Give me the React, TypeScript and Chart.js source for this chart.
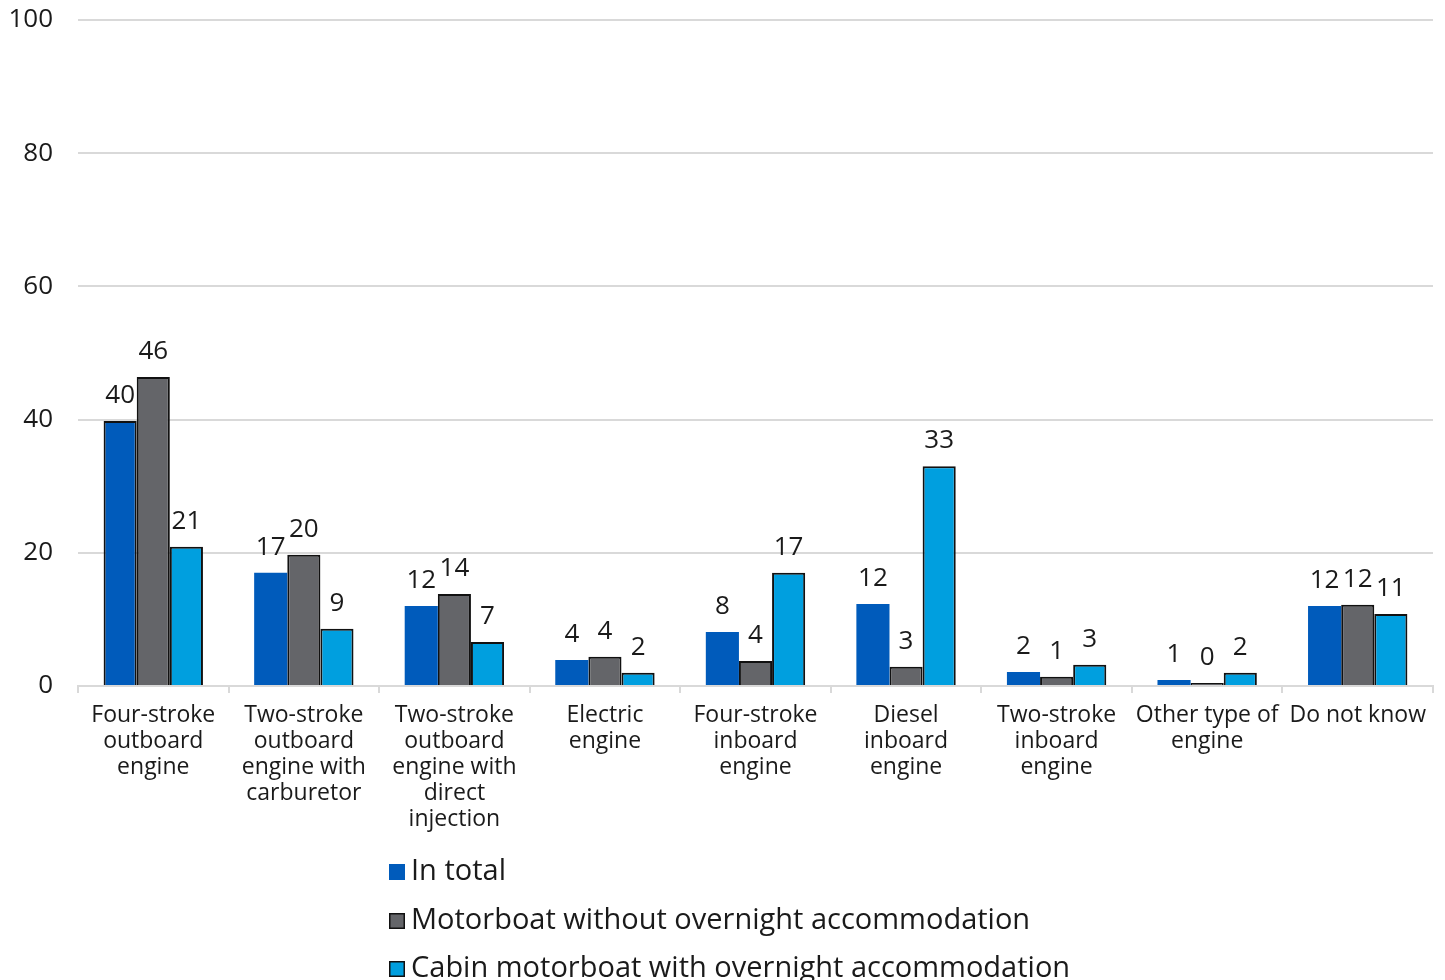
import React, { useEffect, useRef } from "react";
import { Chart, registerables } from "chart.js";

Chart.register(...registerables);

const categories: string[][] = [
  ["Four-stroke", "outboard", "engine"],
  ["Two-stroke", "outboard", "engine with", "carburetor"],
  ["Two-stroke", "outboard", "engine with", "direct", "injection"],
  ["Electric", "engine"],
  ["Four-stroke", "inboard", "engine"],
  ["Diesel", "inboard", "engine"],
  ["Two-stroke", "inboard", "engine"],
  ["Other type of", "engine"],
  ["Do not know"],
];

const seriesNames = [
  "In total",
  "Motorboat without overnight accommodation",
  "Cabin motorboat with overnight accommodation",
];

const inTotal = [39.8, 17.0, 12.0, 3.9, 8.1, 12.3, 2.1, 0.9, 12.0];
const withoutOvernight = [46.4, 19.7, 13.8, 4.4, 3.75, 2.9, 1.4, 0.45, 12.2];
const cabinOvernight = [20.9, 8.6, 6.6, 2.0, 17.0, 33.0, 3.2, 2.0, 10.8];

const yTickValues = [0, 20, 40, 60, 80, 100];

const COLORS = ["#005BBB", "#646569", "#009FDF"];
const FONT = "'Open Sans', sans-serif";
const TEXT = "#1a1a1a";
const GRID = "#d9d9d9";

const valueLabels = {
  id: "valueLabels",
  afterDatasetsDraw(chart: any) {
    const ctx = chart.ctx;
    ctx.save();
    ctx.font = `26px ${FONT}`;
    ctx.fillStyle = TEXT;
    ctx.textAlign = "center";
    ctx.textBaseline = "alphabetic";
    chart.data.datasets.forEach((ds: any, i: number) => {
      const meta = chart.getDatasetMeta(i);
      meta.data.forEach((bar: any, j: number) => {
        const v = ds.data[j] as number;
        ctx.fillText(String(Math.round(v)), bar.x, bar.y - 18);
      });
    });
    ctx.restore();
  },
};

const bottomLegend = {
  id: "bottomLegend",
  afterDraw(chart: any) {
    const ctx = chart.ctx;
    const area = chart.chartArea;
    const left = 389;
    const offsets = [186, 235, 283];
    ctx.save();
    ctx.font = `29px ${FONT}`;
    ctx.textBaseline = "middle";
    ctx.textAlign = "left";
    chart.data.datasets.forEach((ds: any, i: number) => {
      const cy = area.bottom + offsets[i];
      ctx.fillStyle = COLORS[i];
      ctx.fillRect(left, cy - 8, 16, 16);
      if (i > 0) {
        ctx.strokeStyle = "#111";
        ctx.lineWidth = 1.5;
        ctx.strokeRect(left + 0.75, cy - 7.25, 14.5, 14.5);
      }
      ctx.fillStyle = TEXT;
      ctx.fillText(ds.label, left + 22, cy);
    });
    ctx.restore();
  },
};

export default function App() {
  const canvasRef = useRef<HTMLCanvasElement | null>(null);

  useEffect(() => {
    if (!canvasRef.current) return;
    const blueBorders = inTotal.map((_, i) => (i === 0 ? 2 : 0));
    const chart = new Chart(canvasRef.current, {
      type: "bar",
      data: {
        labels: categories,
        datasets: [
          {
            label: seriesNames[0],
            data: inTotal,
            backgroundColor: COLORS[0],
            borderColor: "#111",
            borderWidth: blueBorders,
          },
          {
            label: seriesNames[1],
            data: withoutOvernight,
            backgroundColor: COLORS[1],
            borderColor: "#111",
            borderWidth: 2,
          },
          {
            label: seriesNames[2],
            data: cabinOvernight,
            backgroundColor: COLORS[2],
            borderColor: "#111",
            borderWidth: 2,
          },
        ] as any,
      },
      options: {
        animation: false,
        responsive: true,
        maintainAspectRatio: false,
        datasets: {
          bar: {
            categoryPercentage: 0.66,
            barPercentage: 1,
          },
        },
        layout: {
          padding: { top: 20, right: 12, left: 0, bottom: 0 },
        },
        plugins: {
          legend: { display: false },
          tooltip: { enabled: false },
        },
        scales: {
          x: {
            offset: true,
            grid: {
              display: true,
              drawOnChartArea: false,
              drawTicks: true,
              tickLength: 7,
              color: GRID,
              lineWidth: 2,
              offset: true,
            },
            border: { display: true, color: GRID, width: 2 },
            ticks: {
              autoSkip: false,
              maxRotation: 0,
              minRotation: 0,
              padding: 9,
              color: TEXT,
              font: { family: FONT, size: 23, lineHeight: 1.13 },
            },
            afterFit(scale: any) {
              scale.height = 294;
            },
          },
          y: {
            min: 0,
            max: 100,
            afterBuildTicks(scale: any) {
              scale.ticks = yTickValues.map((v) => ({ value: v }));
            },
            grid: {
              color: GRID,
              lineWidth: 2,
              drawTicks: false,
            },
            border: { display: false },
            ticks: {
              padding: 25,
              color: TEXT,
              font: { family: FONT, size: 26 },
            },
            afterFit(scale: any) {
              scale.width = 78;
              scale.paddingTop = 0;
              scale.paddingBottom = 0;
            },
          },
        },
      },
      plugins: [valueLabels, bottomLegend],
    });
    return () => chart.destroy();
  }, []);

  return (
    <div style={{ position: "absolute", left: 0, top: 0, width: 1445, height: 980, background: "#fff" }}>
      <canvas ref={canvasRef} />
    </div>
  );
}
